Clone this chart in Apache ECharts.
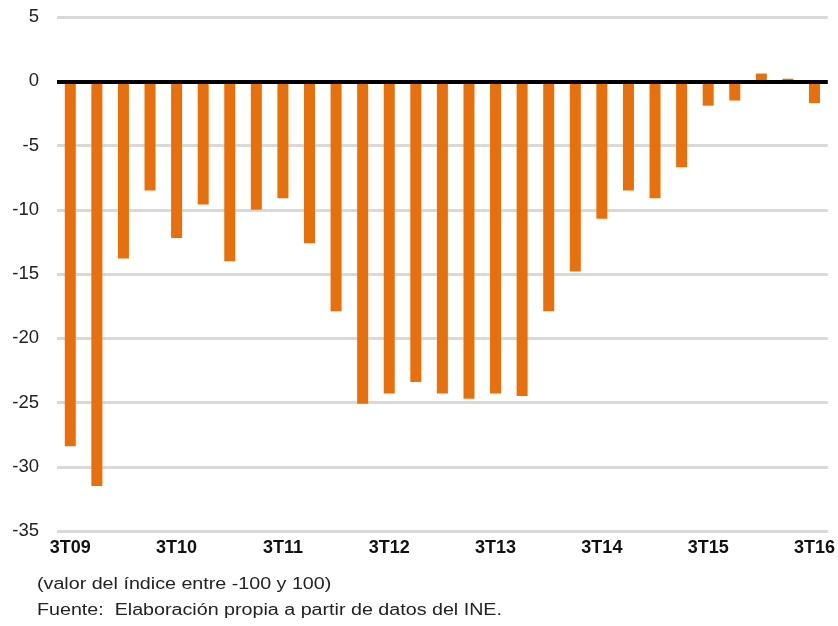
<!DOCTYPE html>
<html>
<head>
<meta charset="utf-8">
<script src="https://cdn.jsdelivr.net/npm/echarts@6/dist/echarts.min.js"></script>
<style>
  html, body { margin: 0; padding: 0; background: #fff; }
  #chart { width: 838px; height: 626px; }
</style>
</head>
<body>
<div id="chart"></div>
<script>
// Quarters from 3T09 to 3T16
const quarters = [
  '3T09','4T09','1T10','2T10','3T10','4T10','1T11','2T11','3T11','4T11',
  '1T12','2T12','3T12','4T12','1T13','2T13','3T13','4T13','1T14','2T14',
  '3T14','4T14','1T15','2T15','3T15','4T15','1T16','2T16','3T16'
];
// Index value (between -100 and 100)
const indexValues = [
  -28.4, -31.5, -13.8, -8.5, -12.2, -9.6, -14.0, -10.0, -9.1, -12.6,
  -17.9, -25.1, -24.3, -23.4, -24.3, -24.7, -24.3, -24.5, -17.9, -14.8,
  -10.7, -8.5, -9.1, -6.7, -1.9, -1.5, 0.6, 0.2, -1.7
];
const yTicks = { min: -35, max: 5, step: 5 };

const chart = echarts.init(document.getElementById('chart'));
const font = 'Liberation Sans, Arial, Helvetica, sans-serif';

chart.setOption({
  animation: false,
  backgroundColor: '#ffffff',
  textStyle: { fontFamily: font },
  grid: { left: 57, right: 9, top: 17, bottom: 95, containLabel: false },
  xAxis: {
    type: 'category',
    data: quarters,
    position: 'bottom',
    axisLine: { show: false },
    axisTick: { show: false },
    axisLabel: {
      interval: (i) => i % 4 === 0,
      color: '#111',
      fontSize: 18,
      fontWeight: 'bold',
      fontFamily: font,
      margin: 8
    },
    splitLine: { show: false }
  },
  yAxis: {
    type: 'value',
    min: yTicks.min,
    max: yTicks.max,
    interval: yTicks.step,
    axisLine: { show: false },
    axisTick: { show: false },
    axisLabel: { color: '#222', fontSize: 18.5, fontFamily: font, margin: 18 },
    splitLine: { lineStyle: { color: '#d9d9d9', width: 3 } }
  },
  series: [{
    type: 'bar',
    data: indexValues,
    barWidth: 11,
    itemStyle: { color: '#e8700c' },
    markLine: {
      silent: true,
      symbol: 'none',
      label: { show: false },
      lineStyle: { color: '#000', width: 4, type: 'solid' },
      data: [{ yAxis: 0 }]
    }
  }],
  graphic: [
    {
      type: 'text', left: 37, top: 577, scaleX: 1.23,
      style: { text: '(valor del índice entre -100 y 100)', fontSize: 16, fill: '#222', fontFamily: font }
    },
    {
      type: 'text', left: 37, top: 603, scaleX: 1.23,
      style: { text: 'Fuente:  Elaboración propia a partir de datos del INE.', fontSize: 16, fill: '#222', fontFamily: font }
    }
  ]
});
</script>
</body>
</html>
